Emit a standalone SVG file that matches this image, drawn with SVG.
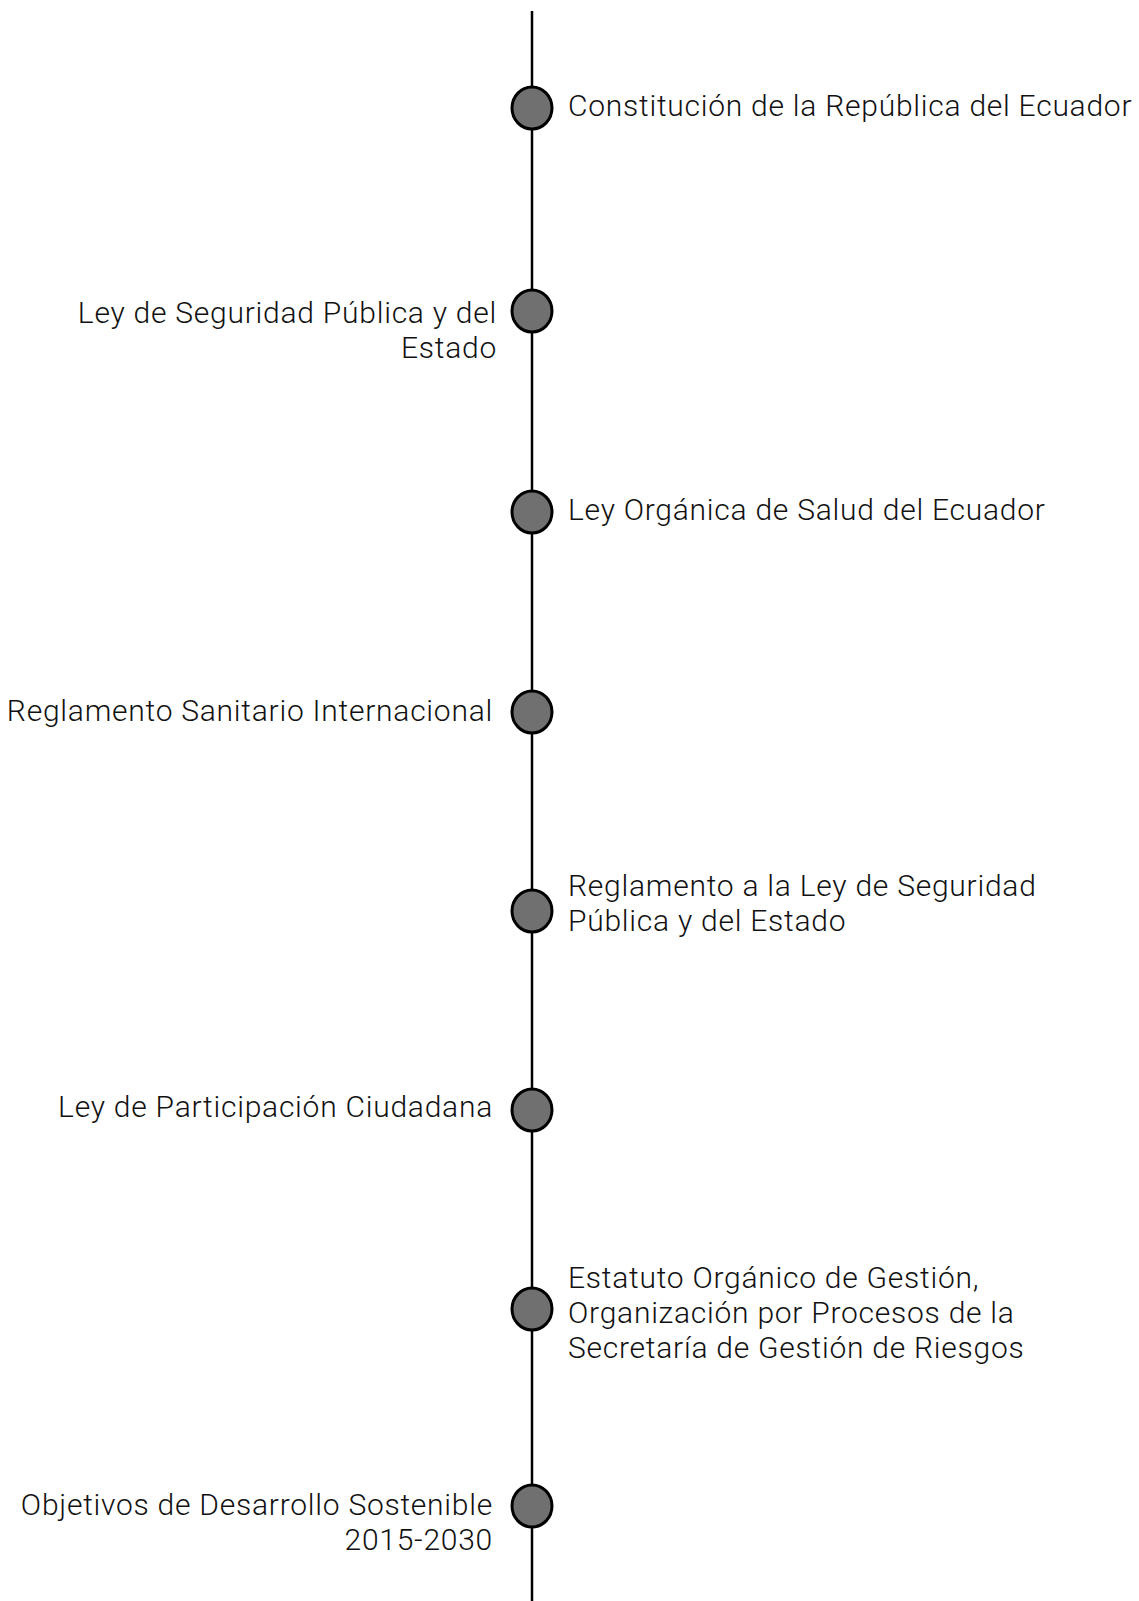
<svg xmlns="http://www.w3.org/2000/svg" width="1139" height="1601" viewBox="0 0 1139 1601">
<style>
.t{font-family:"Roboto","Liberation Sans",sans-serif;font-weight:300;font-size:30px;letter-spacing:0.75px;fill:#111}
.r{text-anchor:start}
.l{text-anchor:end}
.n{fill:#707070;stroke:#000;stroke-width:3}
.ln{stroke:#000;stroke-width:2.5;fill:none}
</style>
<g id="connectors">
<line class="ln" x1="532" y1="11" x2="532" y2="1601"/>
</g>
<g id="n1"><ellipse class="n" cx="532" cy="108" rx="20" ry="21"/><text class="t r" x="568" y="116">Constitución de la República del Ecuador</text></g>
<g id="n2"><ellipse class="n" cx="532" cy="311" rx="20" ry="21"/><text class="t l" x="497" y="323">Ley de Seguridad Pública y del</text><text class="t l" x="497" y="358">Estado</text></g>
<g id="n3"><ellipse class="n" cx="532" cy="512" rx="20" ry="21"/><text class="t r" x="568" y="520">Ley Orgánica de Salud del Ecuador</text></g>
<g id="n4"><ellipse class="n" cx="532" cy="712" rx="20" ry="21"/><text class="t l" x="493" y="721">Reglamento Sanitario Internacional</text></g>
<g id="n5"><ellipse class="n" cx="532" cy="911" rx="20" ry="21"/><text class="t r" x="568" y="896">Reglamento a la Ley de Seguridad</text><text class="t r" x="568" y="931">Pública y del Estado</text></g>
<g id="n6"><ellipse class="n" cx="532" cy="1110" rx="20" ry="21"/><text class="t l" x="493" y="1117">Ley de Participación Ciudadana</text></g>
<g id="n7"><ellipse class="n" cx="532" cy="1309" rx="20" ry="21"/><text class="t r" x="568" y="1288">Estatuto Orgánico de Gestión,</text><text class="t r" x="568" y="1323">Organización por Procesos de la</text><text class="t r" x="568" y="1358">Secretaría de Gestión de Riesgos</text></g>
<g id="n8"><ellipse class="n" cx="532" cy="1506" rx="20" ry="21"/><text class="t l" x="493" y="1515">Objetivos de Desarrollo Sostenible</text><text class="t l" x="493" y="1550">2015-2030</text></g>
</svg>
